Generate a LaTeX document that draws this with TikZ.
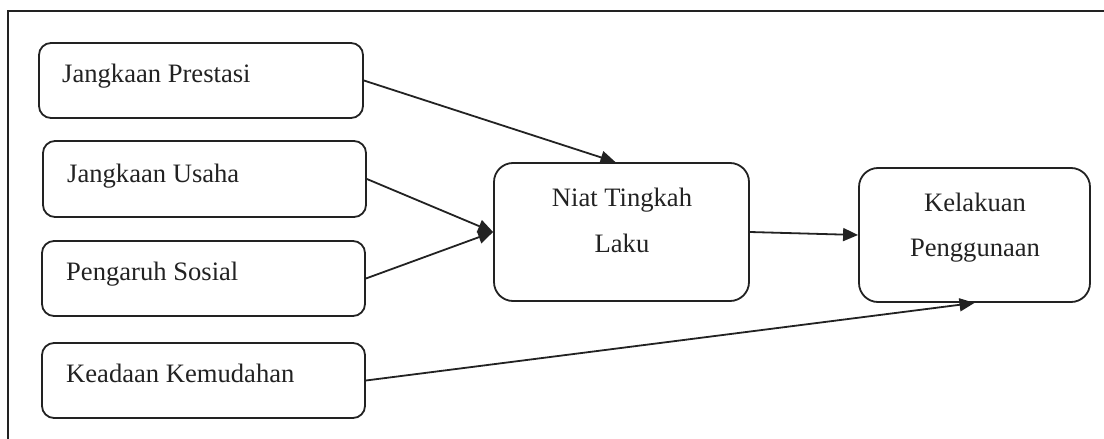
\documentclass[tikz,border=0pt]{standalone}
\usepackage{fontspec}
\setmainfont{Liberation Serif}
\usetikzlibrary{arrows.meta}
\definecolor{ink}{HTML}{222222}
\begin{document}
\begin{tikzpicture}[x=1pt,y=-1pt,
  box/.style={draw=ink,line width=1.8pt,rounded corners=12pt,inner sep=0pt},
  bigbox/.style={box,rounded corners=19pt},
  lbl/.style={inner sep=0pt,text=ink,font=\fontsize{26.6}{32}\selectfont},
  conn/.style={draw=ink,line width=1.8pt,-{Triangle[length=15pt,width=13pt]}}]
\useasboundingbox (0,0) rectangle (1104,439);
\draw[ink,line width=1.8pt] (1104,11) -- (8,11) -- (8,439);
% boxes
\node[box,minimum width=324pt,minimum height=75pt] (b1) at (201,80.5) {};
\node[box,minimum width=323pt,minimum height=76pt] (b2) at (204.5,179) {};
\node[box,minimum width=323pt,minimum height=75pt] (b3) at (203.5,278.5) {};
\node[box,minimum width=323pt,minimum height=75pt] (b4) at (203.5,380.5) {};
\node[bigbox,minimum width=255pt,minimum height=138pt] (niat) at (621.5,232) {};
\node[bigbox,minimum width=231pt,minimum height=134pt] (kel) at (974.5,235) {};
% texts
\node[lbl,anchor=base west] (t1) at (62,82) {Jangkaan Prestasi};
\node[lbl,anchor=base west] (t2) at (67,182) {Jangkaan Usaha};
\node[lbl,anchor=base west] (t3) at (66,280) {Pengaruh Sosial};
\node[lbl,anchor=base west] (t4) at (66,382) {Keadaan Kemudahan};
\node[lbl,anchor=base] (n1) at (622,206) {Niat Tingkah};
\node[lbl,anchor=base] (n2) at (622,252) {Laku};
\node[lbl,anchor=base] (k1) at (975,211) {Kelakuan};
\node[lbl,anchor=base] (k2) at (975,256) {Penggunaan};
% connectors
\draw[conn] (b1.east) -- ([xshift=-6pt]niat.north);
\draw[conn] (b2.east) -- (niat.west);
\draw[conn] (b3.east) -- (niat.west);
\draw[conn] (niat.east) -- (kel.west);
\draw[conn] (b4.east) -- (kel.south);
\end{tikzpicture}
\end{document}
